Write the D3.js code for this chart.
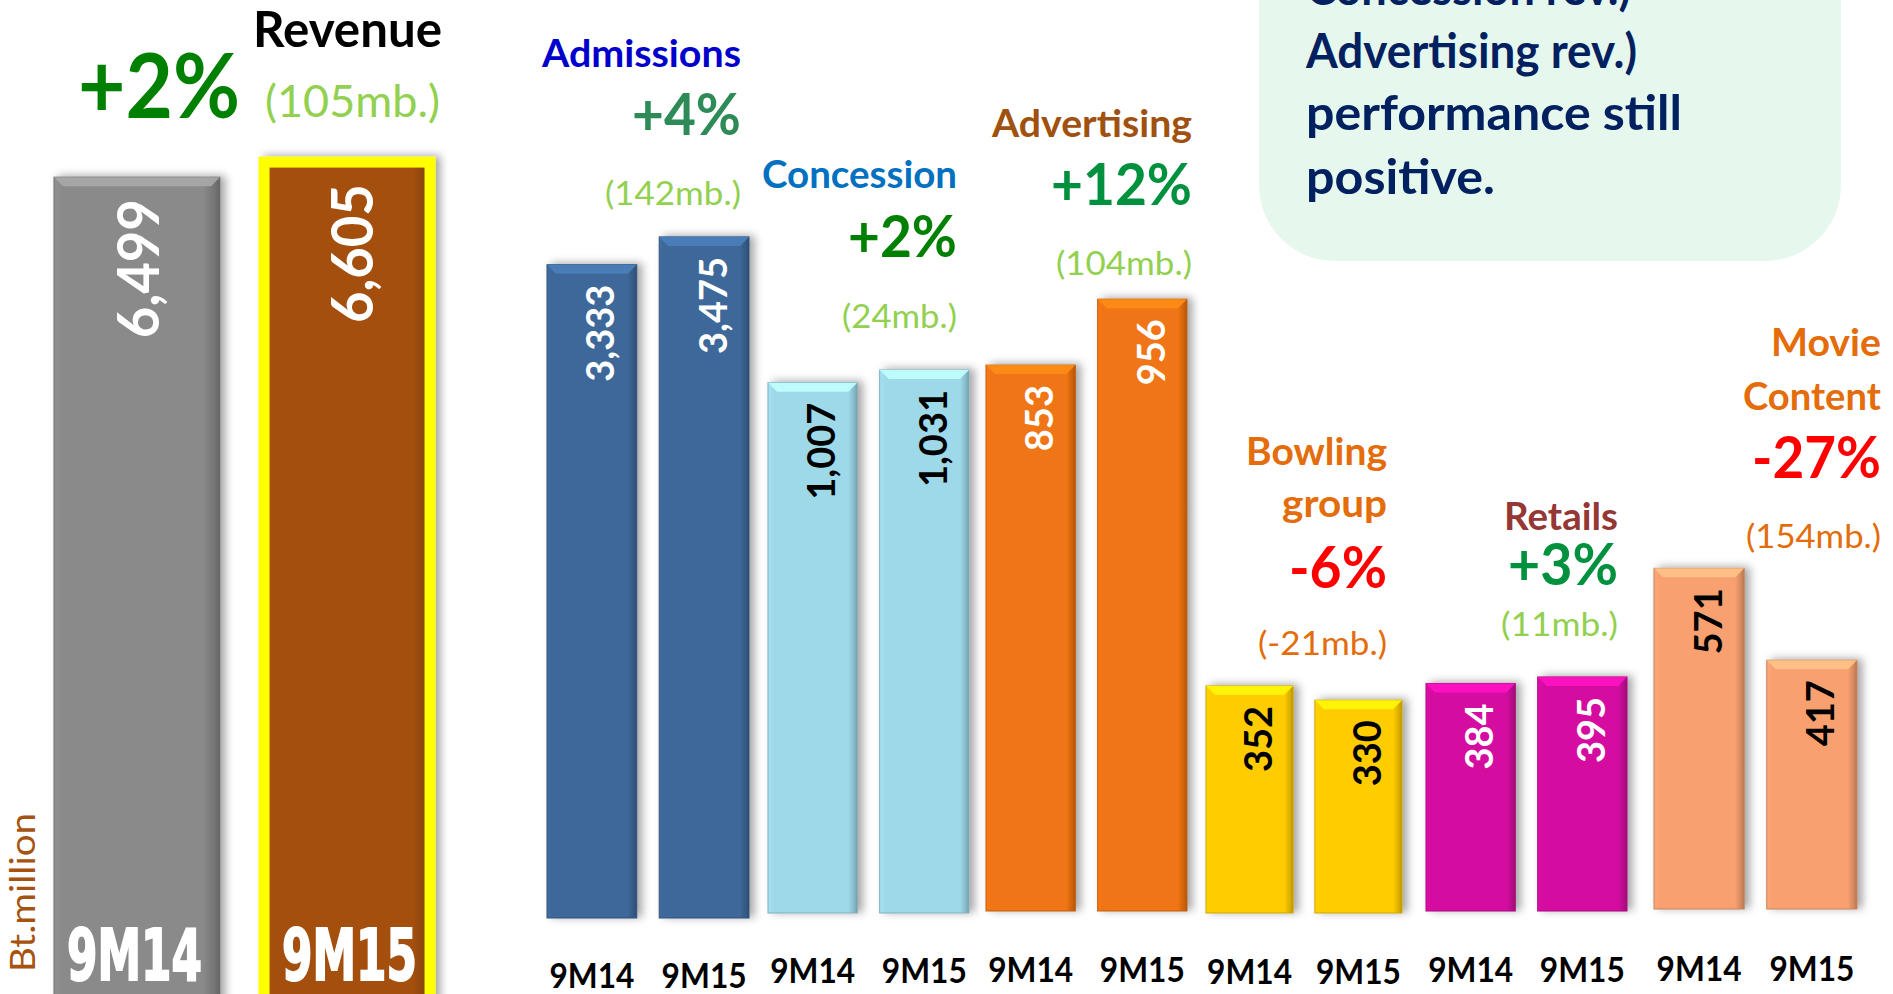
<!DOCTYPE html>
<html><head><meta charset="utf-8">
<script src="https://cdn.jsdelivr.net/npm/d3@7"></script>
<style>html,body{margin:0;padding:0;background:#fff;overflow:hidden}</style>
</head><body>
<script>
// ---------------- DATA ----------------
const periods = ["9M14", "9M15"];
const revenueValues = [6499, 6605];
const revenuePct = "+2%";
const revenueDiff = "(105mb.)";
const categories = ["Admissions", "Concession", "Advertising", "Bowling group", "Retails", "Movie Content"];
const titleLines = [["Admissions"], ["Concession"], ["Advertising"], ["Bowling", "group"], ["Retails"], ["Movie", "Content"]];
const values9M14 = [3333, 1007, 853, 352, 384, 571];
const values9M15 = [3475, 1031, 956, 330, 395, 417];
const pctChange = ["+4%", "+2%", "+12%", "-6%", "+3%", "-27%"];
const diffMb = ["(142mb.)", "(24mb.)", "(104mb.)", "(-21mb.)", "(11mb.)", "(154mb.)"];
const panelAxisMax = [4000, 1200, 1200, 400, 400, 600];
const revenueAxisMax = 7000;
const noteLines = ["Concession rev.)", "Advertising rev.)", "performance still", "positive."];
const unitLabel = "Bt.million";

// ---------------- LAYOUT / STYLE ----------------
const W = 1893, H = 994;
const FONT = "Lato, 'Open Sans', sans-serif";
const panelX = [[547, 749], [768, 969], [986, 1187], [1206, 1402], [1426, 1627], [1654, 1857]];
const panelBottom = [918, 913, 911, 913, 911, 909];
const panelTop = [134, 281, 143, 655, 674, 551];
const axisBaseline = [988, 983, 982, 984, 982, 981];
const barColors = ["#3D6899", "#9ED9EA", "#F07412", "#FFCC05", "#D40FA0", "#F8A06F"];
const labelColors = ["#fff", "#000", "#fff", "#000", "#fff", "#000"];
const titleColors = ["#0000CC", "#0070C0", "#A0500F", "#E46C0A", "#953735", "#E46C0A"];
const pctColors = ["#2E8B57", "#008000", "#00913F", "#FF0000", "#00913F", "#FF0000"];
const diffColors = ["#92D050", "#92D050", "#92D050", "#E46C0A", "#92D050", "#E46C0A"];
const annoRight = [741, 957, 1192, 1387, 1618, 1881];
const titleBase = [[67], [188], [137], [465, 517], [530], [356, 410]];
const titleWidth = [[199], [195], [200], [141, 105], [114], [110, 138]];
const pctBase = [135, 257, 205, 588, 585, 478];
const pctWidth = [109, 109, 141, 98, 110, 129];
const diffBase = [205, 328, 275, 655, 636, 548];
const diffWidth = [136, 115, 136, 129, 117, 135];

const svg = d3.select("body").append("svg").attr("width", W).attr("height", H)
  .style("font-family", FONT);
const defs = svg.append("defs");
const f = defs.append("filter").attr("id", "shadow").attr("x", "-20%").attr("y", "-20%").attr("width", "150%").attr("height", "150%");
f.append("feDropShadow").attr("dx", 5).attr("dy", -1).attr("stdDeviation", 4)
  .attr("flood-color", "#000").attr("flood-opacity", 0.35);

let gid = 0;
function gradientFor(color) {
  const id = "g" + (gid++);
  const c = d3.color(color);
  const lg = defs.append("linearGradient").attr("id", id).attr("x1", 0).attr("x2", 1).attr("y1", 0).attr("y2", 0);
  lg.append("stop").attr("offset", "0%").attr("stop-color", c.brighter(0.12));
  lg.append("stop").attr("offset", "6%").attr("stop-color", c);
  lg.append("stop").attr("offset", "90%").attr("stop-color", c);
  lg.append("stop").attr("offset", "97%").attr("stop-color", c.darker(0.5));
  lg.append("stop").attr("offset", "100%").attr("stop-color", c.darker(0.9));
  return "url(#" + id + ")";
}

function drawBar(g, x, y, w, h, color, opts = {}) {
  const bg = g.append("g");
  bg.append("rect").attr("x", x).attr("y", y).attr("width", w).attr("height", h)
    .attr("fill", gradientFor(color)).attr("filter", "url(#shadow)")
    .attr("stroke", opts.stroke || d3.color(color).darker(0.6)).attr("stroke-width", opts.strokeWidth || 1);
  if (!opts.stroke) {
    const b = 9;
    bg.append("polygon")
      .attr("points", [[x, y], [x + w, y], [x + w - b, y + b], [x + b, y + b]].map(p => p.join(",")).join(" "))
      .attr("fill", d3.color(color).brighter(0.55)).attr("opacity", 0.9);
  }
}

// ---------------- REVENUE PANEL ----------------
const rx = d3.scaleBand().domain(periods).range([54, 430]).paddingInner(0.21);
const ry = d3.scaleLinear().domain([0, revenueAxisMax]).range([1100, 106]);
const rg = svg.append("g");
drawBar(rg, rx(periods[0]), ry(revenueValues[0]), rx.bandwidth(), ry(0) - ry(revenueValues[0]), "#8A8A8A");
drawBar(rg, rx(periods[1]), ry(revenueValues[1]), rx.bandwidth(), ry(0) - ry(revenueValues[1]), "#A44F0C",
  { stroke: "#FFFF00", strokeWidth: 11 });
const revOffsets = [1.5, 5];
revenueValues.forEach((v, j) => {
  const cx = rx(periods[j]) + rx.bandwidth() / 2 + revOffsets[j];
  rg.append("text").attr("transform", `translate(${cx + 0.358 * 58},${ry(v) + 22}) rotate(-90)`)
    .attr("text-anchor", "end").attr("font-size", 58).attr("font-weight", "bold").attr("fill", "#fff")
    .attr("textLength", 139).attr("lengthAdjust", "spacingAndGlyphs")
    .text(d3.format(",")(v));
  rg.append("text").attr("x", rx(periods[j]) + rx.bandwidth() / 2 + (j === 0 ? -2.5 : 2.5)).attr("y", 980)
    .attr("text-anchor", "middle").attr("font-family", "'Liberation Sans Narrow', 'DejaVu Sans Condensed', sans-serif")
    .attr("font-weight", "bold").attr("font-size", 72).attr("fill", "#fff")
    .attr("stroke", "#fff").attr("stroke-width", 2)
    .attr("textLength", 135).attr("lengthAdjust", "spacingAndGlyphs").text(periods[j]);
});
svg.append("text").attr("x", 442).attr("y", 47).attr("text-anchor", "end").attr("font-weight", "bold")
  .attr("font-size", 49).attr("fill", "#000").attr("textLength", 189).attr("lengthAdjust", "spacingAndGlyphs").text("Revenue");
svg.append("text").attr("x", 240).attr("y", 118).attr("text-anchor", "end").attr("font-weight", "bold")
  .attr("font-size", 90).attr("fill", "#008000").attr("textLength", 162).attr("lengthAdjust", "spacingAndGlyphs").text(revenuePct);
svg.append("text").attr("x", 440).attr("y", 117).attr("text-anchor", "end")
  .attr("font-size", 45).attr("fill", "#92D050").attr("textLength", 175).attr("lengthAdjust", "spacingAndGlyphs").text(revenueDiff);
svg.append("text").attr("transform", "translate(35,972) rotate(-90)")
  .attr("font-size", 35).attr("fill", "#A65310").attr("textLength", 159).attr("lengthAdjust", "spacingAndGlyphs").text(unitLabel);

// ---------------- CATEGORY PANELS ----------------
categories.forEach((cat, i) => {
  const g = svg.append("g").attr("class", "panel");
  const x = d3.scaleBand().domain(periods).range(panelX[i]).paddingInner(0.2);
  const y = d3.scaleLinear().domain([0, panelAxisMax[i]]).range([panelBottom[i], panelTop[i]]);
  const vals = [values9M14[i], values9M15[i]];
  vals.forEach((v, j) => {
    drawBar(g, x(periods[j]), y(v), x.bandwidth(), y(0) - y(v), barColors[i]);
  });
  vals.forEach((v, j) => {
    const cx = x(periods[j]) + x.bandwidth() / 2 + 9;
    g.append("text").attr("transform", `translate(${cx + 0.358 * 38},${y(v) + 20}) rotate(-90)`)
      .attr("text-anchor", "end").attr("font-size", 38).attr("font-weight", "bold").attr("fill", labelColors[i])
      .text(d3.format(",")(v));
    g.append("text").attr("x", x(periods[j]) + x.bandwidth() / 2).attr("y", axisBaseline[i])
      .attr("text-anchor", "middle").attr("font-size", 34).attr("font-weight", "bold").attr("fill", "#000")
      .attr("textLength", 85).attr("lengthAdjust", "spacingAndGlyphs").text(periods[j]);
  });
  titleLines[i].forEach((t, k) => {
    g.append("text").attr("x", annoRight[i]).attr("y", titleBase[i][k]).attr("text-anchor", "end")
      .attr("font-size", 38).attr("font-weight", "bold").attr("fill", titleColors[i])
      .attr("textLength", titleWidth[i][k]).attr("lengthAdjust", "spacingAndGlyphs").text(t);
  });
  g.append("text").attr("x", annoRight[i]).attr("y", pctBase[i]).attr("text-anchor", "end")
    .attr("font-size", 58).attr("font-weight", "bold").attr("fill", pctColors[i])
    .attr("textLength", pctWidth[i]).attr("lengthAdjust", "spacingAndGlyphs").text(pctChange[i]);
  g.append("text").attr("x", annoRight[i]).attr("y", diffBase[i]).attr("text-anchor", "end")
    .attr("font-size", 33).attr("fill", diffColors[i])
    .attr("textLength", diffWidth[i]).attr("lengthAdjust", "spacingAndGlyphs").text(diffMb[i]);
});

// ---------------- NOTE BOX ----------------
const noteBase = [5, 68, 130, 194];
const noteWidth = [325, 331, 376, 189];
const nb = svg.append("g");
nb.append("rect").attr("x", 1259).attr("y", -120).attr("width", 582).attr("height", 381).attr("rx", 76)
  .attr("fill", "#E6F8EE");
noteLines.forEach((t, k) => {
  nb.append("text").attr("x", 1306).attr("y", noteBase[k]).attr("font-size", 48).attr("font-weight", "bold")
    .attr("fill", "#002060").attr("textLength", noteWidth[k]).attr("lengthAdjust", "spacingAndGlyphs").text(t);
});
</script>
</body></html>
